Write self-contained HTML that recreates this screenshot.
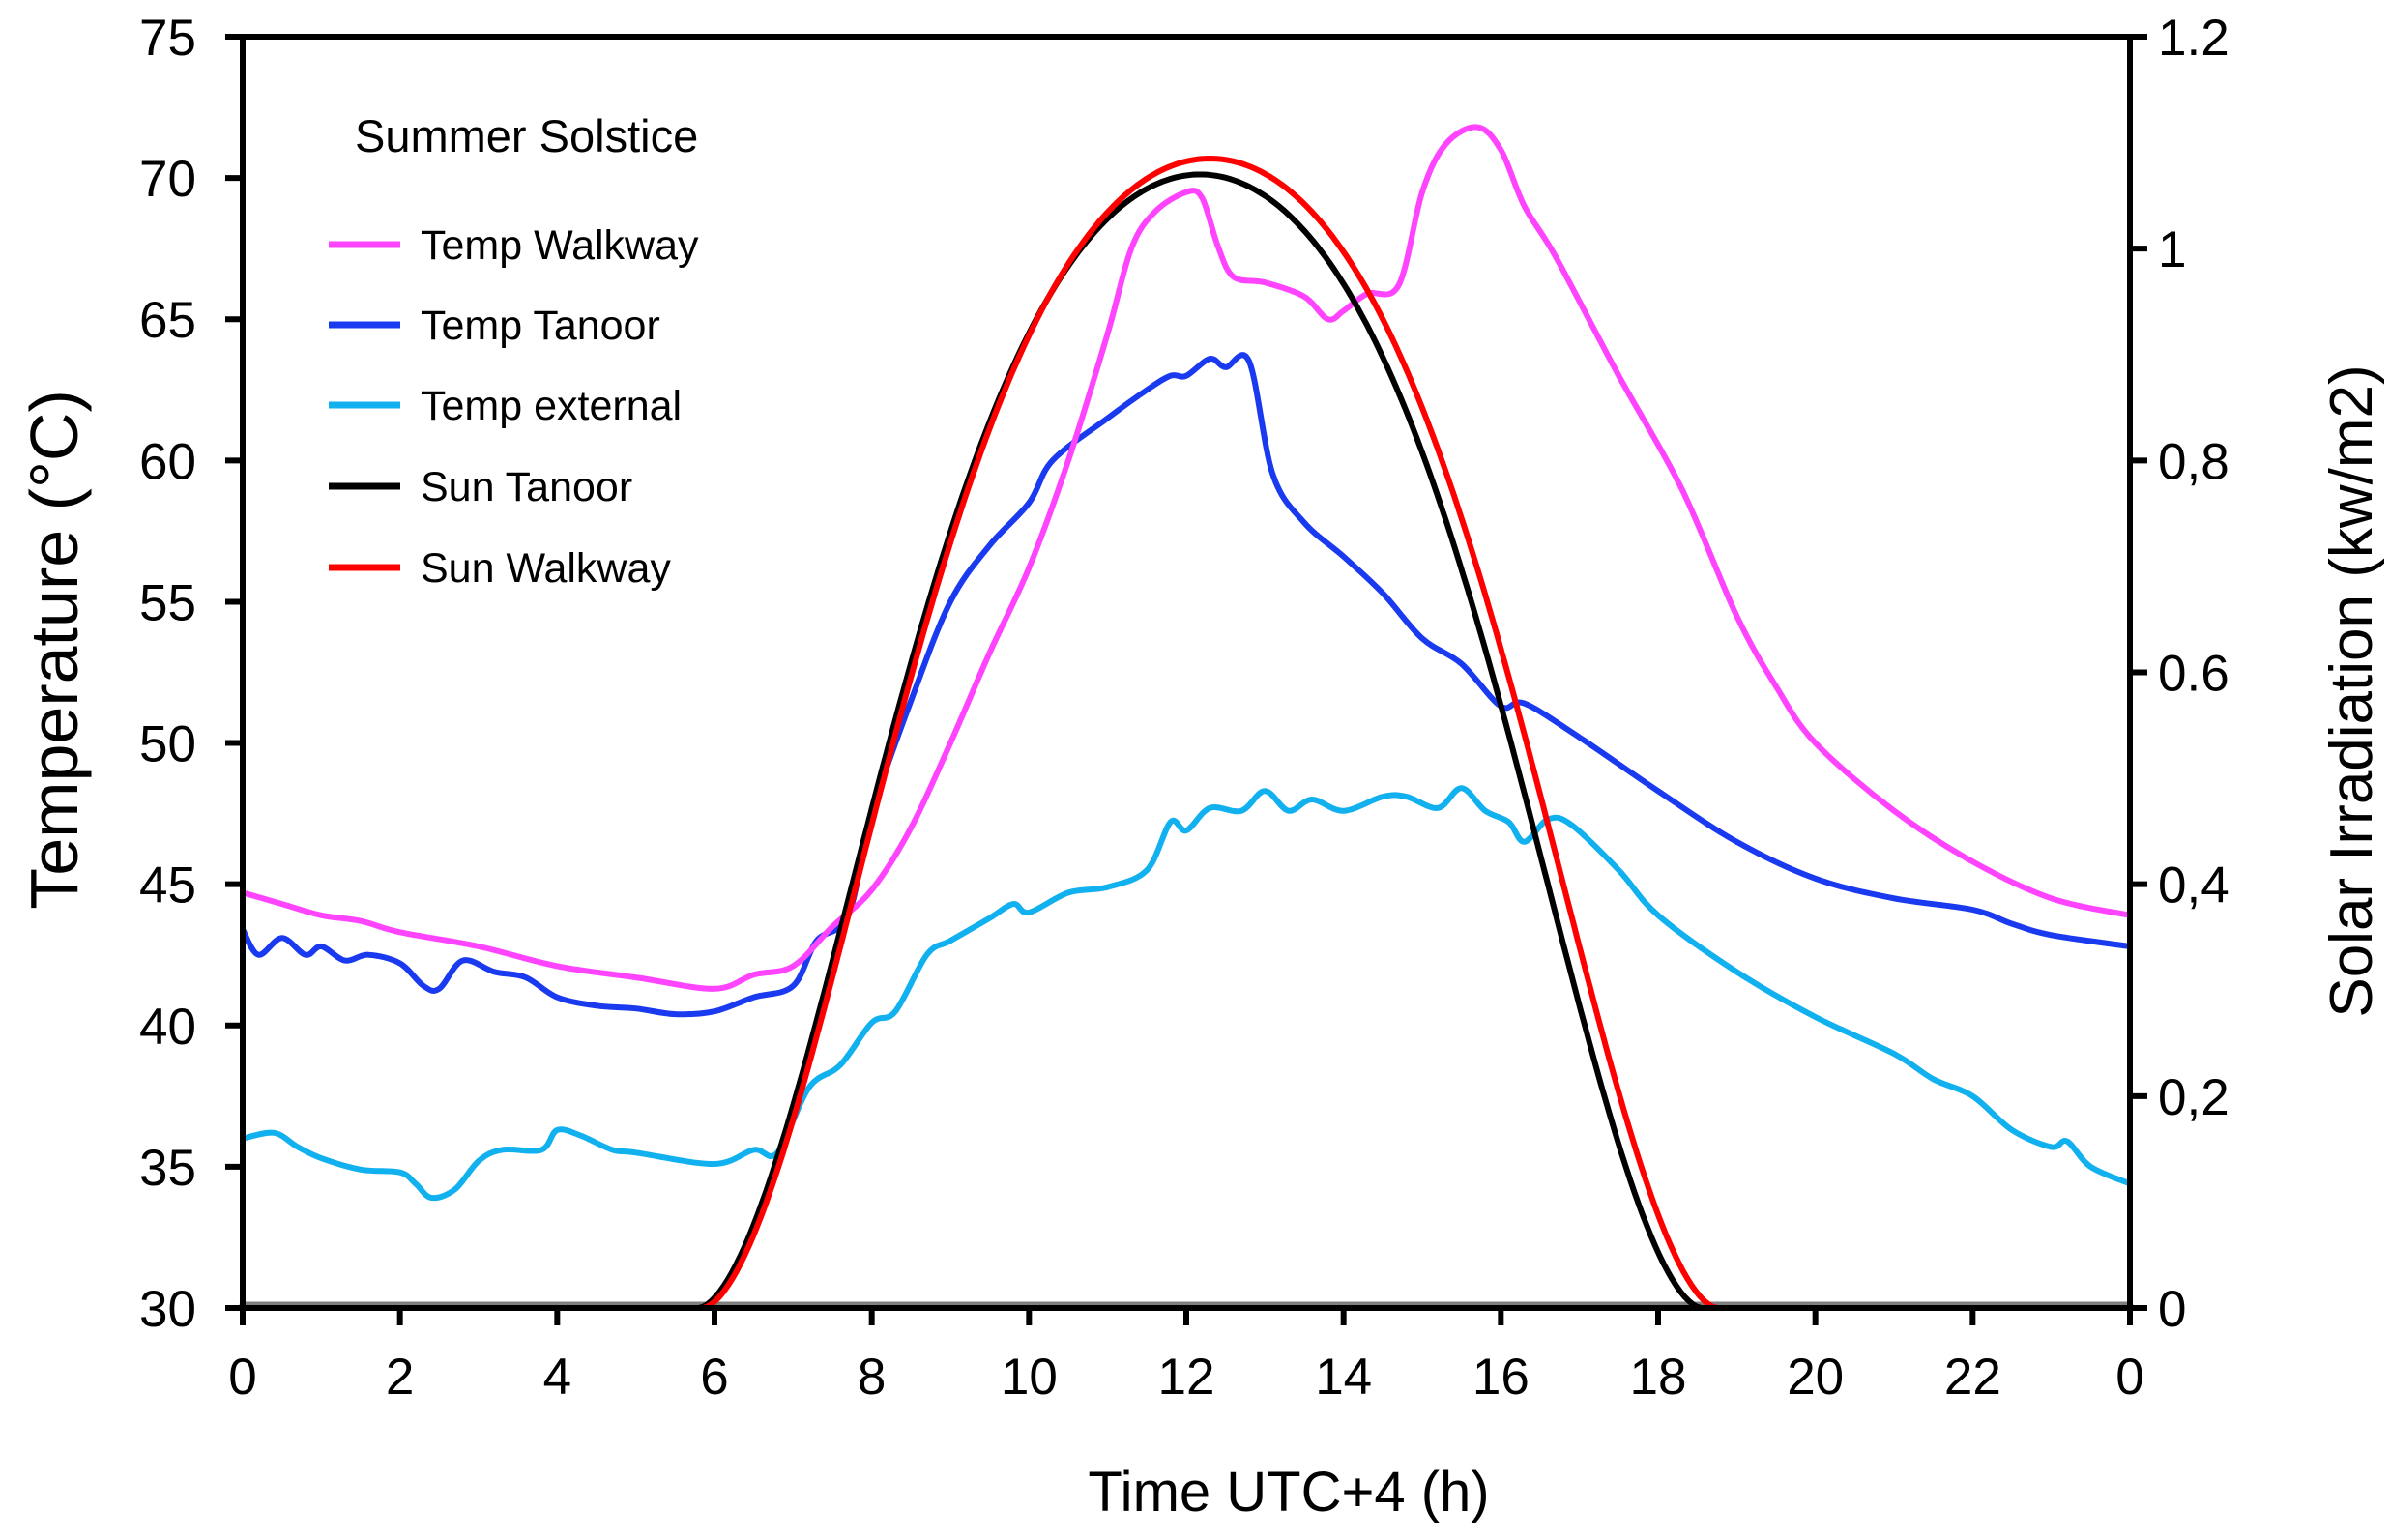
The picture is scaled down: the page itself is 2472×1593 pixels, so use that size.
<!DOCTYPE html>
<html><head><meta charset="utf-8"><style>
html,body{margin:0;padding:0;background:#fff;}
svg{display:block;}
text{font-family:"Liberation Sans",sans-serif;fill:#000;}
</style></head><body>
<svg id="c" width="2472" height="1593" viewBox="0 0 2472 1593" xmlns="http://www.w3.org/2000/svg">
<rect width="2472" height="1593" fill="#fff"/>
<g id="series" fill="none" stroke-linejoin="round" stroke-linecap="round"></g>
<g id="axes"></g>
<text x="367" y="157" font-size="47">Summer Solstice</text>
<g stroke-width="7">
<line x1="340" y1="253" x2="414" y2="253" stroke="#ff44ff"/>
<line x1="340" y1="336" x2="414" y2="336" stroke="#1a3af0"/>
<line x1="340" y1="419" x2="414" y2="419" stroke="#11b0ee"/>
<line x1="340" y1="503" x2="414" y2="503" stroke="#000"/>
<line x1="340" y1="587" x2="414" y2="587" stroke="#ff0000"/>
</g>
<g font-size="43">
<text x="435" y="268">Temp Walkway</text>
<text x="435" y="351">Temp Tanoor</text>
<text x="435" y="434">Temp external</text>
<text x="435" y="518">Sun Tanoor</text>
<text x="435" y="602">Sun Walkway</text>
</g>
<text x="1333" y="1563" font-size="58" text-anchor="middle">Time UTC+4 (h)</text>
<text transform="translate(80,672) rotate(-90)" font-size="70" text-anchor="middle">Temperature (°C)</text>
<text transform="translate(2453,715) rotate(-90)" font-size="62" text-anchor="middle">Solar Irradiation (kw/m2)</text>
</svg>
<script>
var X0=251,X1=2203,YT=38,YB=1353;
function hx(h){return X0+h*(X1-X0)/24;}
function ty(t){return YB-(t-30)*(YB-YT)/45;}
function sy(s){return YB-s*(YB-YT)/1.2;}
function smooth(pts){
 var d="M"+pts[0][0].toFixed(1)+","+pts[0][1].toFixed(1);
 for(var i=0;i<pts.length-1;i++){
  var p0=pts[i-1]||pts[i],p1=pts[i],p2=pts[i+1],p3=pts[i+2]||p2;
  var c1x=p1[0]+(p2[0]-p0[0])/6,c1y=p1[1]+(p2[1]-p0[1])/6;
  var c2x=p2[0]-(p3[0]-p1[0])/6,c2y=p2[1]-(p3[1]-p1[1])/6;
  d+=" C"+c1x.toFixed(1)+","+c1y.toFixed(1)+" "+c2x.toFixed(1)+","+c2y.toFixed(1)+" "+p2[0].toFixed(1)+","+p2[1].toFixed(1);
 }
 return d;
}
function tp(a){var o=[];for(var i=0;i<a.length;i+=2)o.push([hx(a[i]),ty(a[i+1])]);return o;}
var walk=[0,44.7,0.5,44.3,1,43.9,1.5,43.7,2,43.3,3,42.8,4,42.1,5,41.7,6,41.3,6.5,41.8,7,42.1,7.5,43.5,8,44.8,8.5,47,9,50,9.5,53.2,10,56.2,10.5,60,11,64.5,11.3,67.5,11.6,68.8,12,69.5,12.2,69.3,12.4,67.6,12.6,66.5,13,66.3,13.5,65.8,13.8,65,14,65.3,14.3,65.9,14.7,66.2,15,69.5,15.3,71.2,15.7,71.8,16,71,16.3,69,16.7,67.2,17.5,63,18.3,59,19,54.5,19.5,52,20,50,21,47.6,22,45.8,23,44.5,24,43.9];
var tan=[0,43.4,0.2,42.5,0.5,43.1,0.8,42.5,1,42.8,1.3,42.3,1.6,42.5,2,42.2,2.3,41.4,2.5,41.3,2.8,42.3,3.2,41.9,3.6,41.7,4,41.0,4.5,40.7,5,40.6,5.5,40.4,6,40.5,6.5,41.0,7,41.4,7.3,43,7.7,43.9,8,47.5,8.5,51.5,9,55,9.5,57,10,58.5,10.3,60,11,61.5,11.5,62.5,11.8,63,12,63,12.3,63.6,12.5,63.3,12.8,63.5,13.1,59.5,13.5,57.8,14,56.6,14.5,55.3,15,53.7,15.5,52.8,16,51.3,16.3,51.4,17,50.2,18,48.3,19,46.5,20,45.2,21,44.5,22,44.1,22.5,43.6,23,43.2,24,42.8];
var ext=[0,36.0,0.4,36.2,0.7,35.7,1,35.3,1.5,34.9,2,34.8,2.2,34.4,2.4,33.9,2.7,34.2,3,35.2,3.3,35.6,3.8,35.6,4,36.3,4.3,36.1,4.7,35.6,5,35.5,6,35.1,6.5,35.6,6.8,35.5,7.2,37.8,7.6,38.6,8,40.1,8.3,40.5,8.7,42.5,9,43,9.5,43.8,9.8,44.3,10,44,10.5,44.7,11,44.9,11.5,45.5,11.8,47.2,12,46.9,12.3,47.7,12.7,47.6,13,48.3,13.3,47.6,13.6,48,14,47.6,14.5,48.1,14.8,48.1,15.2,47.7,15.5,48.4,15.8,47.6,16.1,47.2,16.3,46.5,16.6,47.3,16.9,47.1,17.5,45.5,18,43.9,19,41.9,20,40.3,21,39,21.5,38.1,22,37.5,22.5,36.3,23,35.7,23.2,35.9,23.5,35.0,24,34.4];
function sun(a,b,pk){var o=[];for(var i=0;i<=240;i++){var h=a+(b-a)*i/240;var s=Math.sin(Math.PI*(h-a)/(b-a));if(s<0)s=0;var v=pk*Math.pow(s,1.6-0.7*s);o.push([hx(h),sy(v)]);}
 return "M"+o.map(function(p){return p[0].toFixed(1)+","+p[1].toFixed(1);}).join(" L");}
var g=document.getElementById("series"),ns="http://www.w3.org/2000/svg";
function add(d,c,w){var p=document.createElementNS(ns,"path");p.setAttribute("d",d);p.setAttribute("stroke",c);p.setAttribute("stroke-width",w);g.appendChild(p);}
add("M"+hx(0)+","+(YB-3)+" L"+hx(24)+","+(YB-3),"#808080",7);
add(smooth(tp(ext)),"#11b0ee",6);
add(smooth(tp(tan)),"#1a3af0",6);
add(smooth(tp(walk)),"#ff44ff",6);
add(sun(5.8,18.55,1.07),"#000",6);
add(sun(5.85,18.75,1.085),"#ff0000",6);
var a=document.getElementById("axes"),s="";
s+='<rect x="'+X0+'" y="'+YT+'" width="'+(X1-X0)+'" height="'+(YB-YT)+'" fill="none" stroke="#000" stroke-width="6"/>';
for(var t=30;t<=75;t+=5){var y=ty(t);s+='<line x1="'+(X0-18)+'" y1="'+y+'" x2="'+X0+'" y2="'+y+'" stroke="#000" stroke-width="6"/>';s+='<text x="203" y="'+(y+19)+'" font-size="53" text-anchor="end">'+t+'</text>';}
var rl=["0","0,2","0,4","0.6","0,8","1","1.2"];
for(var i=0;i<=6;i++){var v=i*0.2,y=sy(v);s+='<line x1="'+X1+'" y1="'+y+'" x2="'+(X1+18)+'" y2="'+y+'" stroke="#000" stroke-width="6"/>';s+='<text x="2232" y="'+(y+19)+'" font-size="53">'+rl[i]+'</text>';}
for(var h=0;h<=24;h+=2){var x=hx(h);s+='<line x1="'+x+'" y1="'+YB+'" x2="'+x+'" y2="'+(YB+18)+'" stroke="#000" stroke-width="6"/>';s+='<text x="'+x+'" y="1442" font-size="53" text-anchor="middle">'+(h==24?0:h)+'</text>';}
a.innerHTML=s;
</script>
</body></html>
